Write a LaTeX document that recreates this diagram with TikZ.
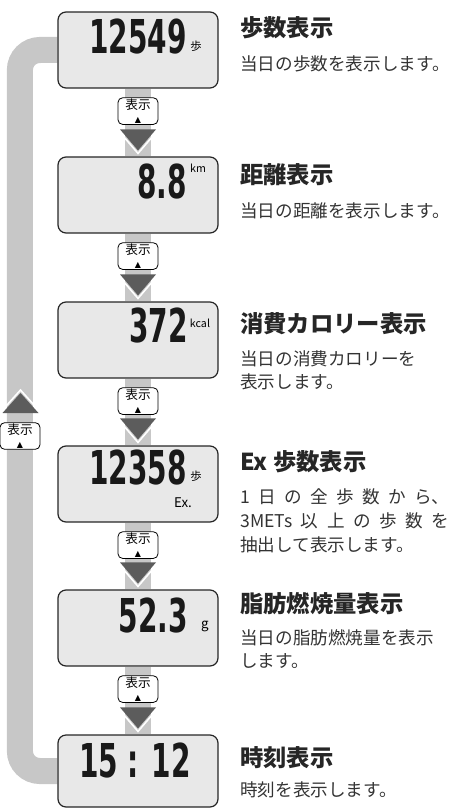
\documentclass[tikz,border=0pt]{standalone}
\usepackage{fontspec}
\usepackage{graphicx}
\usetikzlibrary{calc,backgrounds}
\newfontfamily\jpfont{Noto Sans CJK JP}
\newfontfamily\lcdfont{DejaVu Sans}
\newfontfamily\symfont{DejaVu Sans}
\newcommand\lcd[1]{\scalebox{0.6}[1]{\bfseries #1}}
\definecolor{bargray}{gray}{0.78}
\definecolor{arrowgray}{gray}{0.36}
\definecolor{lcdgray}{gray}{0.91}
\definecolor{textgray}{gray}{0.2}
\tikzset{
  screen/.style={draw=black!85, fill=lcdgray, rounded corners=6pt, line width=0.9pt,
    minimum width=120pt, minimum height=57pt},
  keybox/.style={draw, fill=white, rounded corners=3.5pt, line width=0.6pt,
    minimum width=30pt, minimum height=20pt, inner sep=0pt, align=center,
    font=\jpfont\fontsize{9.5}{9.5}\selectfont},
  bar/.style={draw=bargray, line width=19.5pt},
  title/.style={anchor=west, inner sep=0pt, text=black!85,
    font=\jpfont\bfseries\fontsize{17.5}{17.5}\selectfont},
  desc/.style={anchor=west, inner sep=0pt, align=left, text=textgray,
    font=\jpfont\fontsize{13.2}{17.25}\selectfont},
  digits/.style={anchor=east, inner sep=0pt, text=black!90,
    font=\lcdfont\fontsize{35}{35}\selectfont},
  unit/.style={inner sep=0pt, font=\jpfont\fontsize{8}{8}\selectfont},
}
\begin{document}
\begin{tikzpicture}[x=0.75pt, y=-0.75pt]
\useasboundingbox (0,0) rectangle (451,809);

% screens
\node[screen] (s1) at (138,50) {};
\node[screen] (s2) at (138,195) {};
\node[screen] (s3) at (138,340) {};
\node[screen] (s4) at (138,484) {};
\node[screen] (s5) at (138,628) {};
\node[screen, minimum height=54pt] (s6) at (138,771) {};

% readings
\node[digits] (n1) at (187,37) {\lcd{12549}};
\node[unit, font=\jpfont\fontsize{8.5}{8.5}\selectfont] (u1) at (196,46) {歩};
\node[digits] (n2) at (187,182) {\lcd{8.8}};
\node[unit] (u2) at (198,168) {km};
\node[digits] (n3) at (188,326) {\lcd{372}};
\node[unit] (u3) at (200,323) {kcal};
\node[digits] (n4) at (187,468) {\lcd{12358}};
\node[unit, font=\jpfont\fontsize{8.5}{8.5}\selectfont] (u4) at (196,476) {歩};
\node[unit, font=\jpfont\fontsize{10}{10}\selectfont] (x4) at (183,503) {Ex.};
\node[digits] (n5) at (188,616) {\lcd{52.3}};
\node[unit, font=\jpfont\fontsize{10}{10}\selectfont] (u5) at (205,626) {g};
\node[digits, anchor=center] (n6) at (135,761) {\lcd{15 : 12}};

% bars between screens
\begin{scope}[on background layer]
  \foreach \a/\b in {s1/s2, s2/s3, s3/s4, s4/s5, s5/s6}
    \draw[bar] (\a) -- (\b);
  \draw[bar, rounded corners=15pt] (s6.west) -- ++(-37.5,0) |- (s1.west);
\end{scope}

% keys and arrows
\foreach \a/\b in {s1/s2, s2/s3, s3/s4, s4/s5, s5/s6} {
  \node[keybox] (k\a) at ($(\a.south)+(0,22.5)$) {表示\\{\symfont\fontsize{6}{6}\selectfont ▲}};
  \fill[arrowgray] ($(\b.north)+(-18,-27)$) -- ($(\b.north)+(18,-27)$)
    -- ($(\b.north)+(0,-6)$) -- cycle;
  \draw[white, line width=1.2pt] ($(\b.north)+(-18,-24)$) -- ($(\b.north)+(0,-3)$)
    -- ($(\b.north)+(18,-24)$);
}
\fill[arrowgray] (2.5,413) -- (38.5,413) -- (20.5,393) -- cycle;
\draw[white, line width=1.2pt] (2.5,410) -- (20.5,390) -- (38.5,410);
\node[keybox] (kl) at (20,436) {表示\\{\symfont\fontsize{6}{6}\selectfont ▲}};

% explanations
\node[title] (t1) at (240,28) {歩数表示};
\node[desc] (d1) at (240,64) {当日の歩数を表示します。};
\node[title] (t2) at (240,175) {距離表示};
\node[desc] (d2) at (240,211) {当日の距離を表示します。};
\node[title] (t3) at (240,324) {消費カロリー表示};
\node[desc] (d3) at (240,370) {当日の消費カロリーを\\表示します。};
\node[title] (t4) at (240,462) {Ex 歩数表示};
\node[desc, font=\jpfont\fontsize{13.2}{18}\selectfont] (d4) at (240,521)
  {\makebox[157pt][s]{1 日 の 全 歩 数 か ら、}\\
   \makebox[157pt][s]{3METs 以 上 の 歩 数 を}\\
   抽出して表示します。};
\node[title] (t5) at (240,604) {脂肪燃焼量表示};
\node[desc] (d5) at (240,649.5) {当日の脂肪燃焼量を表示\\します。};
\node[title] (t6) at (240,758) {時刻表示};
\node[desc] (d6) at (240,790) {時刻を表示します。};
\end{tikzpicture}
\end{document}
